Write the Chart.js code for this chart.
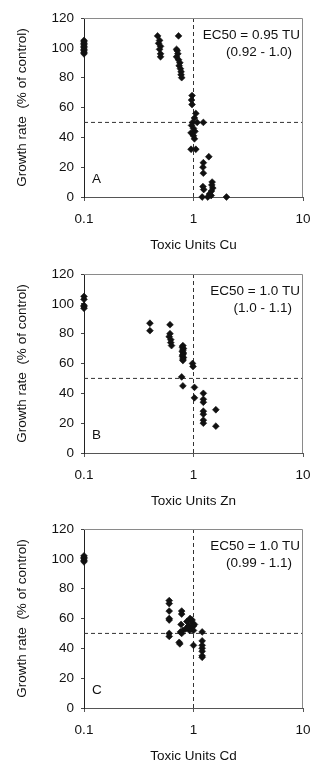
<!DOCTYPE html>
<html>
<head>
<meta charset="utf-8">
<script src="https://cdn.jsdelivr.net/npm/chart.js@4/dist/chart.umd.min.js"></script>
<style>
  html, body { margin: 0; padding: 0; background: #fff; overflow: hidden; }
  .panel { position: absolute; left: 0; width: 310px; height: 256px; }
</style>
</head>
<body>
<div class="panel" style="top:0px"><canvas id="cA" width="310" height="256"></canvas></div>
<div class="panel" style="top:256px"><canvas id="cB" width="310" height="256"></canvas></div>
<div class="panel" style="top:511px"><canvas id="cC" width="310" height="256"></canvas></div>
<script>
// ---- data ----
const xTicks = [0.1, 1, 10];
const xTickLabels = ['0.1', '1', '10'];
const yTicks = [0, 20, 40, 60, 80, 100, 120];
const yTitle = 'Growth rate  (% of control)';

const ec50X = [1, 1];
const ec50Yspan = [0, 120];
const halfX = [0.1, 10];
const halfY = [50, 50];

// Panel A: Cu
const cuX = [0.1,0.1,0.1,0.1,0.1,0.1,0.1,0.1,0.1,0.1,
  0.47,0.49,0.48,0.50,0.49,0.50,0.50,
  0.73,0.70,0.71,0.72,0.70,0.73,0.75,0.74,0.76,0.77,0.77,0.78,
  0.97,0.96,0.97,1.05,1.02,0.98,1.08,1.23,0.96,1.00,1.03,0.95,1.00,1.02,0.95,1.05,
  1.23,1.22,1.23,1.38,1.22,1.24,1.48,1.47,1.50,1.46,1.40,1.20,1.35,1.45,2.0];
const cuY = [96,97,98,99,100,101,102,103,104,105,
  108,105,103,101,99,96,94,
  108,99,98,96,94,92,90,88,86,84,82,80,
  68,65,62,56,53,50,50,50,48,46,44,43,41,39,32,32,
  23,20,16,27,7,5,10,8,6,4,2,0,0,1,0];

// Panel B: Zn
const znX = [0.1,0.1,0.1,0.1,0.1,
  0.40,0.40,
  0.61,0.61,0.60,0.62,0.62,0.63,
  0.80,0.79,0.81,0.80,0.79,0.81,0.80,0.79,0.81,0.80,0.80,
  0.78,0.80,
  0.98,0.99,1.02,1.02,
  1.23,1.23,1.23,1.23,1.23,1.23,1.23,
  1.60,1.60];
const znY = [105,103,99,98,97,
  87,82,
  86,80,78,76,74,72,
  72,71,70,69,68,67,66,65,64,63,62,
  51,45,
  60,58,44,37,
  40,36,34,28,26,22,20,
  29,18];

// Panel C: Cd
const cdX = [0.1,0.1,0.1,0.1,0.1,
  0.60,0.60,0.60,0.60,0.60,0.60,0.60,
  0.78,0.78,0.77,0.76,0.78,0.74,0.75,0.80,
  0.87,0.90,0.93,0.95,0.97,1.00,1.00,0.92,0.85,0.97,0.88,1.02,
  1.00,
  1.20,1.20,1.20,1.20,1.20,1.20,1.20];
const cdY = [98,99,100,101,102,
  72,70,65,60,59,50,48,
  65,63,56,51,50,44,43,52,
  58,55,60,53,57,55,52,52,53,59,54,56,
  42,
  51,45,42,40,38,35,34];

const panels = [
  {id: 'cA', xs: cuX, ys: cuY, xTitle: 'Toxic Units Cu', letter: 'A', ec: 'EC50 = 0.95 TU', ci: '(0.92 - 1.0)'},
  {id: 'cB', xs: znX, ys: znY, xTitle: 'Toxic Units Zn', letter: 'B', ec: 'EC50 = 1.0 TU', ci: '(1.0 - 1.1)'},
  {id: 'cC', xs: cdX, ys: cdY, xTitle: 'Toxic Units Cd', letter: 'C', ec: 'EC50 = 1.0 TU', ci: '(0.99 - 1.1)'}
];

// ---- rendering ----
const FONT = '"Liberation Sans", Arial, Helvetica, sans-serif';
const FS = 13.5;
const TXT = '#111';
const zip = (a, b) => a.map((v, i) => ({x: v, y: b[i]}));

const framePlugin = {
  id: 'frameAndText',
  afterDatasetsDraw(chart, args, opts) {
    const {ctx, chartArea: a} = chart;
    ctx.save();
    ctx.strokeStyle = '#8a8a8a';
    ctx.lineWidth = 1;
    ctx.beginPath();
    ctx.moveTo(a.left, a.top + 0.5);
    ctx.lineTo(a.right - 0.5, a.top + 0.5);
    ctx.lineTo(a.right - 0.5, a.bottom);
    ctx.stroke();
    ctx.fillStyle = TXT;
    ctx.font = FS + 'px ' + FONT;
    ctx.textBaseline = 'middle';
    ctx.textAlign = 'right';
    ctx.fillText(opts.ec, a.right - 3, a.top + 17);
    ctx.fillText(opts.ci, a.right - 11, a.top + 34);
    ctx.textAlign = 'left';
    ctx.fillText(opts.letter, a.left + 8, a.bottom - 18);
    ctx.restore();
  }
};

panels.forEach(p => {
  new Chart(document.getElementById(p.id), {
    type: 'scatter',
    data: {
      datasets: [
        {data: zip(ec50X, ec50Yspan), showLine: true, borderColor: '#333', borderWidth: 1,
         borderDash: [4, 3], pointRadius: 0, order: 2},
        {data: zip(halfX, halfY), showLine: true, borderColor: '#333', borderWidth: 1,
         borderDash: [4, 3], pointRadius: 0, order: 2},
        {data: zip(p.xs, p.ys), pointStyle: 'rectRot', pointRadius: 3.4, clip: false,
         backgroundColor: '#111', borderColor: '#111', borderWidth: 0.6, order: 1}
      ]
    },
    options: {
      responsive: false,
      animation: false,
      devicePixelRatio: 1,
      events: [],
      layout: {padding: {top: 18, right: 7, left: 0, bottom: 0}},
      plugins: {
        legend: {display: false},
        tooltip: {enabled: false},
        frameAndText: {ec: p.ec, ci: p.ci, letter: p.letter}
      },
      scales: {
        x: {
          type: 'logarithmic',
          min: 0.1, max: 10,
          border: {display: true, color: '#555', width: 1},
          grid: {display: true, drawOnChartArea: false, drawTicks: true, tickLength: 4, color: '#555'},
          afterBuildTicks: s => { s.ticks = xTicks.map(v => ({value: v})); },
          ticks: {
            autoSkip: false, maxRotation: 0, padding: 10, color: TXT,
            font: {family: FONT, size: FS},
            callback: (v) => { const i = xTicks.indexOf(v); return i >= 0 ? xTickLabels[i] : ''; }
          },
          title: {display: true, text: p.xTitle, color: TXT, font: {family: FONT, size: FS},
                  padding: {top: 0, bottom: 3}},
          afterFit: s => { s.height = 59; s.paddingLeft = 0; s.paddingRight = 0; }
        },
        y: {
          min: 0, max: 120,
          border: {display: true, color: '#222', width: 1},
          grid: {display: true, drawOnChartArea: false, drawTicks: true, tickLength: 3, color: '#444'},
          afterBuildTicks: s => { s.ticks = yTicks.map(v => ({value: v})); },
          ticks: {padding: 7, color: TXT, font: {family: FONT, size: FS}},
          title: {display: true, text: yTitle, color: TXT, font: {family: FONT, size: FS},
                  padding: {top: 14, bottom: 0}},
          afterFit: s => { s.width = 84; s.paddingTop = 0; s.paddingBottom = 0; }
        }
      }
    },
    plugins: [framePlugin]
  });
});
</script>
</body>
</html>
